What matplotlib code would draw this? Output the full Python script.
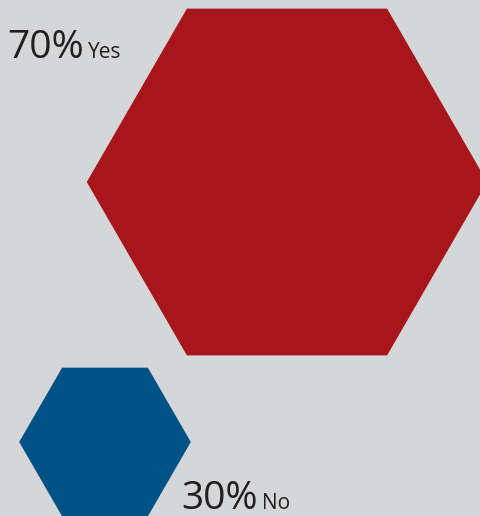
import numpy as np
import matplotlib
matplotlib.use("Agg")
import matplotlib.pyplot as plt
from matplotlib.patches import RegularPolygon

labels = ["Yes", "No"]
values = [70, 30]
colors = ["#a8151b", "#005286"]

BG = "#d5d6d8"
TXT = "#231f20"

fig = plt.figure(figsize=(4.8, 5.16), dpi=100, facecolor=BG)
ax = fig.add_axes([0, 0, 1, 1])
ax.set_facecolor(BG)
ax.set_xlim(0, 480)
ax.set_ylim(516, 0)
ax.set_aspect("equal")
ax.axis("off")

scale = 2.86  # px radius per percentage point
centers = [(287, 182), (105, 442)]
for v, c, (cx, cy) in zip(values, colors, centers):
    ax.add_patch(RegularPolygon((cx, cy), numVertices=6, radius=v * scale,
                                orientation=np.pi / 6, facecolor=c, edgecolor="none"))

font = "Open Sans"
label_pos = [(7, 58), (181, 509)]
fig.canvas.draw()
renderer = fig.canvas.get_renderer()
for v, lab, (x, y) in zip(values, labels, label_pos):
    t = ax.text(x, y, f"{v}%", fontsize=28, color=TXT, family=font,
                ha="left", va="baseline")
    bb = t.get_window_extent(renderer)
    x_end = ax.transData.inverted().transform((bb.x1, bb.y0))[0]
    ax.text(x_end + 4, y, lab, fontsize=15, color=TXT, family=font,
            ha="left", va="baseline")

fig.savefig("out.png", dpi=100, facecolor=BG)
